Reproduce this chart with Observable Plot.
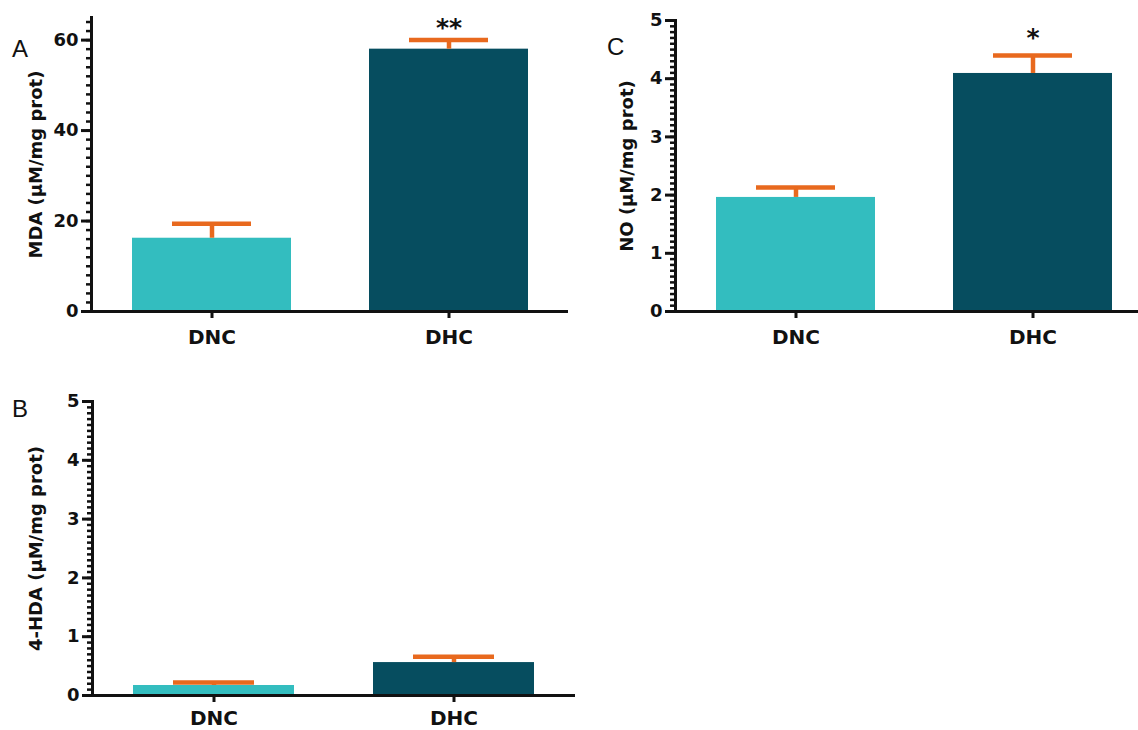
<!DOCTYPE html>
<html><head><meta charset="utf-8">
<script src="https://cdn.jsdelivr.net/npm/d3@7"></script>
<script src="https://cdn.jsdelivr.net/npm/@observablehq/plot@0.6"></script>
<style>
html,body{margin:0;padding:0;background:#fff;overflow:hidden;}
#root{position:relative;width:1138px;height:730px;overflow:hidden;background:#fff;}
.panel{position:absolute;}
.panel svg{max-width:none !important;}
.tag{position:absolute;font-family:"Liberation Sans",Arial,sans-serif;font-size:24px;line-height:24px;color:#111;}
</style></head><body><div id="root"></div>
<script>
// ---- data ----
const groups = ["DNC", "DHC"];
const mdaMean = [16.2, 58.0];
const mdaUpper = [19.4, 60.0];
const mdaSig = ["", "**"];
const hdaMean = [0.17, 0.56];
const hdaUpper = [0.22, 0.66];
const hdaSig = ["", ""];
const noMean = [1.96, 4.09];
const noUpper = [2.13, 4.40];
const noSig = ["", "*"];
const mdaTicks = [0, 20, 40, 60];
const unitTicks = [0, 1, 2, 3, 4, 5];
const colors = ["#33BDBF", "#064D5F"];
const errColor = "#E8691E";

function panel(o) {
  const rows = groups.map((g, i) => ({group: g, mean: o.mean[i], upper: o.upper[i], sig: o.sig[i]}));
  const minor = d3.range(0, o.domain[1] + 1e-9, o.minorStep);
  const plot = Plot.plot({
    width: o.width, height: o.height,
    marginTop: o.mt, marginBottom: o.mb, marginLeft: o.ml, marginRight: o.mr,
    style: {fontFamily: "DejaVu Sans", fontWeight: "bold", color: "#111", background: "transparent", overflow: "visible", maxWidth: "none"},
    x: {domain: groups, paddingInner: 0.33, paddingOuter: 0.17, align: 0.5},
    y: {domain: o.domain},
    color: {domain: groups, range: colors},
    marks: [
      Plot.barY(rows, {x: "group", y: "mean", fill: "group"}),
      Plot.ruleX(rows, {x: "group", y1: "mean", y2: "upper", stroke: errColor, strokeWidth: 4.5}),
      Plot.tickY(rows, {x: "group", y: "upper", stroke: errColor, strokeWidth: 4.5, insetLeft: 40, insetRight: 40}),
      Plot.text(rows, {x: "group", y: "upper", text: "sig", lineAnchor: "bottom", dy: o.sigDy, fontSize: 25, fill: "#111"}),
      Plot.axisY(minor, {tickSize: 5, strokeWidth: 2.5, stroke: "#111", tickFormat: () => "", label: null}),
      Plot.axisY(o.major, {tickSize: 10, strokeWidth: 3, stroke: "#111", tickPadding: 3, fontSize: 18, tickFormat: d3.format("d"),
        label: o.label, labelAnchor: "center", labelOffset: o.labelOffset, labelArrow: "none"}),
      Plot.axisX({tickSize: 7, strokeWidth: 3, stroke: "#111", tickPadding: o.xPad, fontSize: 20, label: null}),
      Plot.frame({anchor: "left", strokeWidth: 3, stroke: "#111"}),
      Plot.ruleY([0], {strokeWidth: 3, stroke: "#111"})
    ]
  });
  const wrap = document.createElement("div");
  wrap.className = "panel";
  wrap.style.left = o.left + "px";
  wrap.style.top = o.top + "px";
  wrap.style.width = o.width + "px";
  wrap.appendChild(plot);
  document.getElementById("root").appendChild(wrap);
}

panel({mean: mdaMean, upper: mdaUpper, sig: mdaSig, domain: [0, 65], major: mdaTicks, minorStep: 2,
  label: "MDA (μM/mg prot)", labelOffset: 62, sigDy: -4, xPad: 11,
  left: 0, top: 0, width: 580, height: 350, mt: 17, mb: 39, ml: 91, mr: 12});
panel({mean: noMean, upper: noUpper, sig: noSig, domain: [0, 5], major: unitTicks, minorStep: 0.1,
  label: "NO (μM/mg prot)", labelOffset: 55, sigDy: -9, xPad: 11,
  left: 585, top: 0, width: 579, height: 350, mt: 20, mb: 39, ml: 90, mr: 12});
panel({mean: hdaMean, upper: hdaUpper, sig: hdaSig, domain: [0, 5], major: unitTicks, minorStep: 0.1,
  label: "4-HDA (μM/mg prot)", labelOffset: 63, sigDy: -4, xPad: 8,
  left: 0, top: 380, width: 587, height: 350, mt: 21, mb: 35, ml: 92, mr: 12});

const tags = [["A", 12, 37], ["C", 607, 35], ["B", 12, 397]];
for (const [t, x, y] of tags) {
  const d = document.createElement("div");
  d.className = "tag"; d.textContent = t;
  d.style.left = x + "px"; d.style.top = y + "px";
  document.getElementById("root").appendChild(d);
}
</script></body></html>
